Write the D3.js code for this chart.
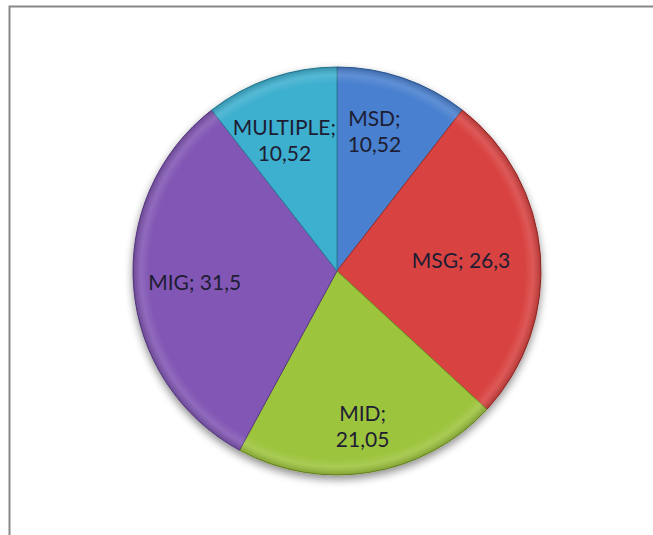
<!DOCTYPE html>
<html><head><meta charset="utf-8">
<script src="https://cdnjs.cloudflare.com/ajax/libs/d3/7.8.5/d3.min.js"></script>
<style>html,body{margin:0;padding:0;background:#fff;overflow:hidden}</style>
</head><body>
<script>
const categories = ["MSD", "MSG", "MID", "MIG", "MULTIPLE"];
const values = [10.52, 26.3, 21.05, 31.5, 10.52];
const valueLabels = ["10,52", "26,3", "21,05", "31,5", "10,52"];
const colors = ["#4a80cf", "#d8433f", "#9dc43c", "#8156b4", "#3eafcf"];
const strokes = ["#2f5d9c", "#9c2b28", "#6f8e26", "#5a3a85", "#2a7f98"];
// label layout: radius fraction, angle offset (deg), two-line?
const labelR = [0.71, 0.61, 0.77, 0.70, 0.69];
const labelDA = [-4, 0, 0, 0, -3];
const twoLine = [true, false, true, false, true];

const W = 653, H = 535;
const cx = 337, cy = 271, R = 204;

const svg = d3.select("body").append("svg").attr("width", W).attr("height", H);
const defs = svg.append("defs");
const f = defs.append("filter").attr("id", "sh").attr("x", "-20%").attr("y", "-20%").attr("width", "140%").attr("height", "150%");
f.append("feGaussianBlur").attr("in", "SourceAlpha").attr("stdDeviation", 4).attr("result", "b");
f.append("feOffset").attr("in", "b").attr("dy", 4).attr("result", "o");
f.append("feComponentTransfer").attr("in", "o").attr("result", "o2")
  .append("feFuncA").attr("type", "linear").attr("slope", 0.45);
const m = f.append("feMerge");
m.append("feMergeNode").attr("in", "o2");
m.append("feMergeNode").attr("in", "SourceGraphic");

const rg = defs.append("radialGradient").attr("id", "bev").attr("cx", "50%").attr("cy", "50%").attr("r", "50%");
rg.append("stop").attr("offset", "0%").attr("stop-color", "#fff").attr("stop-opacity", 0);
rg.append("stop").attr("offset", "92%").attr("stop-color", "#fff").attr("stop-opacity", 0);
rg.append("stop").attr("offset", "96%").attr("stop-color", "#fff").attr("stop-opacity", 0.12);
rg.append("stop").attr("offset", "100%").attr("stop-color", "#000").attr("stop-opacity", 0.18);

svg.append("rect").attr("x", 9.5).attr("y", 6.5).attr("width", 700).attr("height", 600)
  .attr("fill", "#fff").attr("stroke", "#888").attr("stroke-width", 2);

const data = categories.map((c, i) => ({ c, v: values[i], i }));
const pie = d3.pie().value(d => d.v).sort(null);
const arcs = pie(data);
const arc = d3.arc().innerRadius(0).outerRadius(R);

const g = svg.append("g").attr("transform", `translate(${cx},${cy})`);
const pg = g.append("g").attr("filter", "url(#sh)");
pg.selectAll("path.s").data(arcs).join("path").attr("class", "s")
  .attr("d", arc).attr("fill", d => colors[d.data.i])
  .attr("stroke", d => strokes[d.data.i]).attr("stroke-width", 1);
g.append("circle").attr("r", R).attr("fill", "url(#bev)").attr("pointer-events", "none");

const fontFam = "Lato, 'Open Sans', 'DejaVu Sans', sans-serif";
arcs.forEach(d => {
  const i = d.data.i;
  const a = (d.startAngle + d.endAngle) / 2 + labelDA[i] * Math.PI / 180;
  const r = R * labelR[i];
  const x = r * Math.sin(a), y = -r * Math.cos(a);
  const t = g.append("text").attr("x", x).attr("y", y).attr("text-anchor", "middle")
    .attr("font-family", fontFam).attr("font-size", 21).attr("fill", "#1d1d33");
  if (twoLine[i]) {
    t.append("tspan").attr("x", x).attr("dy", "-0.25em").text(categories[i] + ";");
    t.append("tspan").attr("x", x).attr("dy", "1.25em").text(valueLabels[i]);
  } else {
    t.attr("dy", "0.35em").text(categories[i] + "; " + valueLabels[i]);
  }
});
</script>
</body></html>
